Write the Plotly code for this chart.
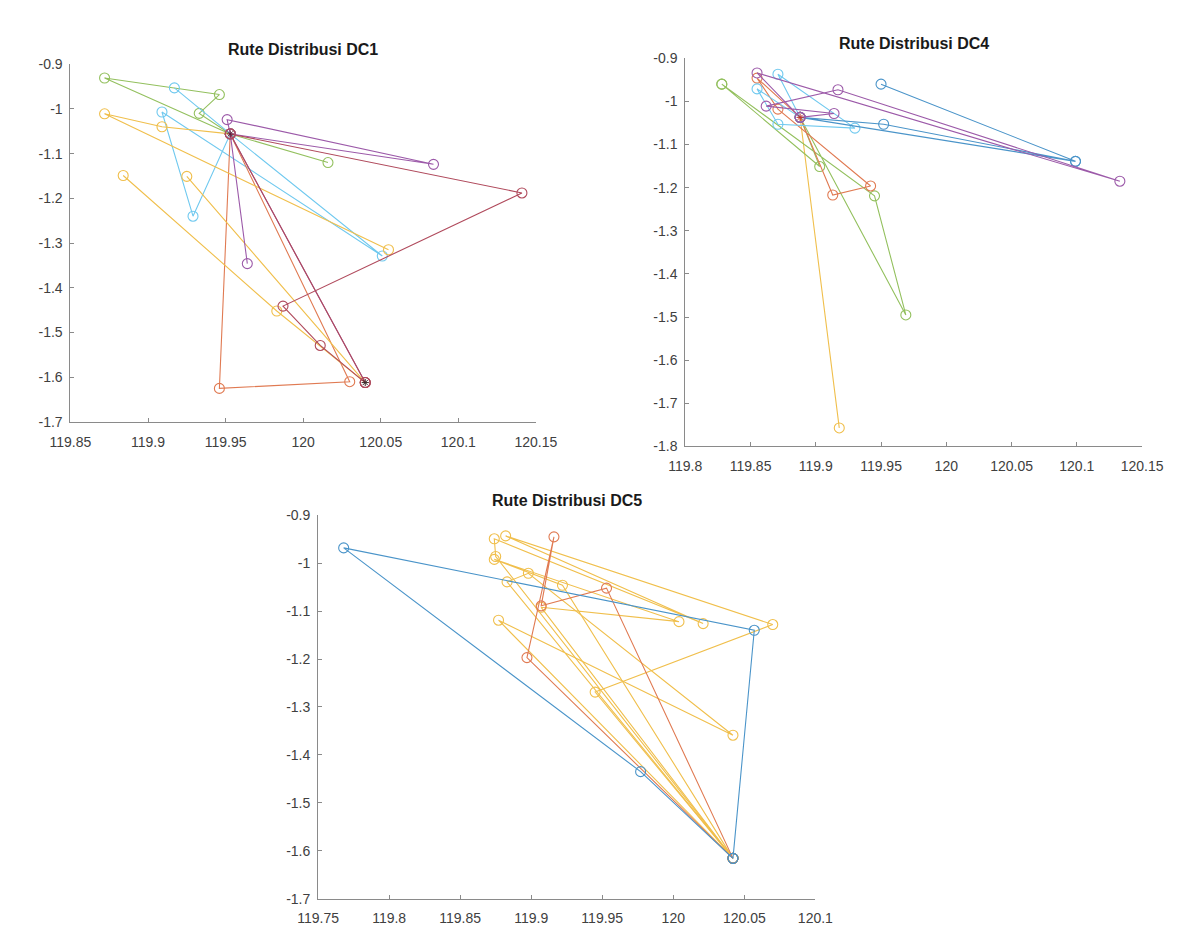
import plotly.graph_objects as go

# ---------------- DATA ----------------
# Panel DC1 (longitude, latitude)
dc1_hub = (119.953, -1.056)
dc1_depot = (120.040, -1.612)
dc1_green_x = [120.016, 119.953, 119.933, 119.946, 119.872, 119.953]
dc1_green_y = [-1.120, -1.056, -1.010, -0.968, -0.931, -1.056]
dc1_cyan_x = [119.917, 119.953, 119.929, 119.909, 120.051, 119.953]
dc1_cyan_y = [-0.953, -1.056, -1.240, -1.007, -1.329, -1.056]
dc1_purple_x = [120.040, 119.953, 119.951, 120.084, 119.953, 119.964]
dc1_purple_y = [-1.612, -1.056, -1.024, -1.124, -1.056, -1.346]
dc1_darkred_x = [120.040, 119.953, 120.141, 119.987, 120.011, 120.040]
dc1_darkred_y = [-1.612, -1.056, -1.188, -1.441, -1.529, -1.612]
dc1_orange_x = [119.953, 119.946, 120.030, 119.953]
dc1_orange_y = [-1.056, -1.625, -1.610, -1.056]
dc1_yellow_x = [120.055, 119.872, 119.909, 119.953]
dc1_yellow_y = [-1.315, -1.011, -1.040, -1.056]
dc1_yellow2_x = [119.925, 120.040, 119.983, 119.884]
dc1_yellow2_y = [-1.151, -1.612, -1.452, -1.149]

# Panel DC4
dc4_hub = (119.888, -1.037)
dc4_blue_x = [119.950, 120.099, 119.888, 119.952, 120.099]
dc4_blue_y = [-0.960, -1.139, -1.037, -1.053, -1.139]
dc4_purple_x = [119.888, 119.914, 119.862, 119.917, 120.133, 119.855, 119.888]
dc4_purple_y = [-1.037, -1.028, -1.011, -0.973, -1.185, -0.934, -1.037]
dc4_red_x = [119.888, 119.855, 119.871, 119.942, 119.913, 119.888]
dc4_red_y = [-1.037, -0.946, -1.018, -1.196, -1.217, -1.037]
dc4_green_x = [119.828, 119.903, 119.888, 119.969, 119.945, 119.828]
dc4_green_y = [-0.960, -1.151, -1.037, -1.495, -1.219, -0.960]
dc4_cyan_x = [119.888, 119.855, 119.871, 119.930, 119.871, 119.888]
dc4_cyan_y = [-1.037, -0.971, -1.053, -1.062, -0.937, -1.037]
dc4_yellow_x = [119.888, 119.918, 119.888]
dc4_yellow_y = [-1.037, -1.757, -1.037]

# Panel DC5
dc5_hub = (120.042, -1.616)
dc5_blue_x = [120.042, 120.057, 119.768, 119.977, 120.042]
dc5_blue_y = [-1.616, -1.140, -0.968, -1.435, -1.616]
dc5_red_x = [120.042, 119.953, 119.907, 119.916, 119.897, 120.042]
dc5_red_y = [-1.616, -1.052, -1.089, -0.945, -1.197, -1.616]
dc5_yellow1_x = [120.042, 119.945, 120.070, 119.882, 120.021, 119.874, 119.875, 120.042]
dc5_yellow1_y = [-1.616, -1.269, -1.128, -0.943, -1.126, -0.949, -0.986, -1.616]
dc5_yellow2_x = [120.042, 119.877, 120.042, 119.898, 119.883, 120.042]
dc5_yellow2_y = [-1.616, -1.119, -1.359, -1.021, -1.039, -1.616]
dc5_yellow3_x = [120.042, 119.907, 120.004, 119.874, 119.922, 120.042]
dc5_yellow3_y = [-1.616, -1.092, -1.122, -0.992, -1.046, -1.616]

# Ticks
dc1_xticks = [119.85, 119.9, 119.95, 120, 120.05, 120.1, 120.15]
dc1_xlabels = ["119.85", "119.9", "119.95", "120", "120.05", "120.1", "120.15"]
dc1_yticks = [-0.9, -1, -1.1, -1.2, -1.3, -1.4, -1.5, -1.6, -1.7]
dc1_ylabels = ["-0.9", "-1", "-1.1", "-1.2", "-1.3", "-1.4", "-1.5", "-1.6", "-1.7"]
dc4_xticks = [119.8, 119.85, 119.9, 119.95, 120, 120.05, 120.1, 120.15]
dc4_xlabels = ["119.8", "119.85", "119.9", "119.95", "120", "120.05", "120.1", "120.15"]
dc4_yticks = [-0.9, -1, -1.1, -1.2, -1.3, -1.4, -1.5, -1.6, -1.7, -1.8]
dc4_ylabels = ["-0.9", "-1", "-1.1", "-1.2", "-1.3", "-1.4", "-1.5", "-1.6", "-1.7", "-1.8"]
dc5_xticks = [119.75, 119.8, 119.85, 119.9, 119.95, 120, 120.05, 120.1]
dc5_xlabels = ["119.75", "119.8", "119.85", "119.9", "119.95", "120", "120.05", "120.1"]
dc5_yticks = dc1_yticks
dc5_ylabels = dc1_ylabels

titles = ["Rute Distribusi DC1", "Rute Distribusi DC4", "Rute Distribusi DC5"]

# ---------------- STYLE ----------------
C_BLUE = "#4a94c9"
C_ORANGE = "#e07a52"
C_YELLOW = "#f0bf4c"
C_PURPLE = "#9c5aa9"
C_GREEN = "#93c05e"
C_CYAN = "#70c9ef"
C_DARKRED = "#b04a5c"

fig = go.Figure()


def add_route(xs, ys, color, ax):
    fig.add_trace(go.Scatter(
        x=xs, y=ys, mode="lines+markers",
        line=dict(color=color, width=1.1),
        marker=dict(symbol="circle-open", size=10, color=color, line=dict(width=1.1)),
        xaxis="x" + ax, yaxis="y" + ax, showlegend=False, hoverinfo="x+y"))


def add_hub(pt, color, ax):
    fig.add_trace(go.Scatter(
        x=[pt[0]], y=[pt[1]], mode="markers",
        marker=dict(symbol="asterisk-open", size=6, color=color, line=dict(width=1, color=color)),
        xaxis="x" + ax, yaxis="y" + ax, showlegend=False))


add_route(dc1_green_x, dc1_green_y, C_GREEN, "")
add_route(dc1_cyan_x, dc1_cyan_y, C_CYAN, "")
add_route(dc1_orange_x, dc1_orange_y, C_ORANGE, "")
add_route(dc1_yellow_x, dc1_yellow_y, C_YELLOW, "")
add_route(dc1_yellow2_x, dc1_yellow2_y, C_YELLOW, "")
add_route(dc1_purple_x, dc1_purple_y, C_PURPLE, "")
add_route(dc1_darkred_x, dc1_darkred_y, C_DARKRED, "")
add_hub(dc1_hub, "#5a1f3a", "")
add_hub(dc1_depot, "#3a2a2a", "")

add_route(dc4_yellow_x, dc4_yellow_y, C_YELLOW, "2")
add_route(dc4_green_x, dc4_green_y, C_GREEN, "2")
add_route(dc4_red_x, dc4_red_y, C_ORANGE, "2")
add_route(dc4_cyan_x, dc4_cyan_y, C_CYAN, "2")
add_route(dc4_blue_x, dc4_blue_y, C_BLUE, "2")
add_route(dc4_purple_x, dc4_purple_y, C_PURPLE, "2")
add_hub(dc4_hub, "#c0392b", "2")

add_route(dc5_yellow1_x, dc5_yellow1_y, C_YELLOW, "3")
add_route(dc5_yellow2_x, dc5_yellow2_y, C_YELLOW, "3")
add_route(dc5_yellow3_x, dc5_yellow3_y, C_YELLOW, "3")
add_route(dc5_red_x, dc5_red_y, C_ORANGE, "3")
add_route(dc5_blue_x, dc5_blue_y, C_BLUE, "3")

W, H = 1184, 934


def dom_x(a, b):
    return [a / W, b / W]


def dom_y(top, bottom):
    return [(H - bottom) / H, (H - top) / H]


axis_common = dict(showgrid=False, zeroline=False, showline=True, linecolor="#8a8a8a",
                   linewidth=1, ticks="inside", ticklen=4, tickcolor="#8a8a8a",
                   tickfont=dict(family="Liberation Sans, Arial", size=14, color="#404040"),
                   tickmode="array", mirror=False, fixedrange=True)
xa = dict(axis_common, ticklabelstandoff=7)
ya = dict(axis_common, ticklabelstandoff=4)

fig.update_layout(
    width=W, height=H, margin=dict(l=0, r=0, t=0, b=0),
    paper_bgcolor="white", plot_bgcolor="white",
    xaxis=dict(domain=dom_x(43, 526), range=[119.85, 120.15], tickvals=dc1_xticks,
               ticktext=dc1_xlabels, anchor="y", **xa),
    yaxis=dict(domain=dom_y(49, 413), range=[-1.7, -0.9], tickvals=dc1_yticks,
               ticktext=dc1_ylabels, anchor="x", **ya),
    xaxis2=dict(domain=dom_x(681, 1155), range=[119.8, 120.15], tickvals=dc4_xticks,
                ticktext=dc4_xlabels, anchor="y2", **xa),
    yaxis2=dict(domain=dom_y(43, 438), range=[-1.8, -0.9], tickvals=dc4_yticks,
                ticktext=dc4_ylabels, anchor="x2", **ya),
    xaxis3=dict(domain=dom_x(300, 816), range=[119.75, 120.1], tickvals=dc5_xticks,
                ticktext=dc5_xlabels, anchor="y3", **xa),
    yaxis3=dict(domain=dom_y(508, 898), range=[-1.7, -0.9], tickvals=dc5_yticks,
                ticktext=dc5_ylabels, anchor="x3", **ya),
)

title_font = dict(family="Liberation Sans, Arial", size=16, color="#1a1a1a")
for txt, cx, cy in [(titles[0], 284, 34), (titles[1], 918, 28), (titles[2], 558, 493)]:
    fig.add_annotation(text="<b>" + txt + "</b>", x=cx / W, y=(H - cy) / H,
                       xref="paper", yref="paper", showarrow=False,
                       xanchor="center", yanchor="middle", font=title_font)

fig.write_html("out.html")
